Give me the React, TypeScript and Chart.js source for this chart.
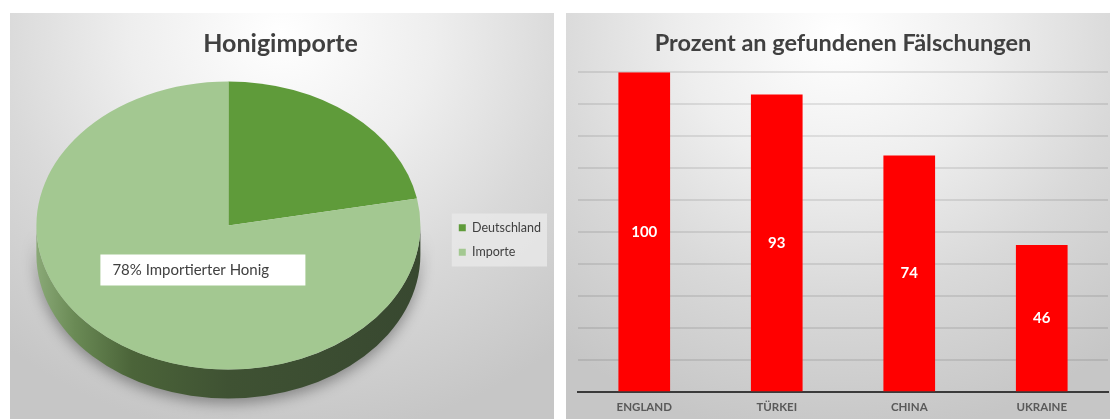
import React, { useEffect, useRef } from 'react';
import { Chart, registerables } from 'chart.js';

Chart.register(...registerables);

// ---------- data ----------
const pieTitle = 'Honigimporte';
const pieLabels = ['Deutschland', 'Importe'];
const pieValues = [22, 78];
const pieColors = ['#5f9b3a', '#a3c891'];
const pieCalloutText = 'Importierter Honig';

const barTitle = 'Prozent an gefundenen Fälschungen';
const barLabels = ['ENGLAND', 'TÜRKEI', 'CHINA', 'UKRAINE'];
const barValues = [100, 93, 74, 46];
const barAxisMin = 0;
const barAxisMax = 100;
const barAxisStep = 10;

// ---------- style ----------
const FONT = "Lato, 'Open Sans', sans-serif";
const TEXT_DARK = '#404040';
const PIE_RX = 192;
const PIE_RY = 144;
const PIE_DEPTH = 29;

Chart.defaults.font.family = FONT;

const panelBg =
  'radial-gradient(ellipse 80% 100% at 50% 5%, #ffffff 0%, #eeeeee 35%, #d9d9d9 65%, #c6c6c6 100%)';

function pieGeom(chart: any) {
  const arc: any = chart.getDatasetMeta(0).data[0];
  if (!arc) return null;
  return { ox: arc.x, oy: arc.y, r: arc.outerRadius, cx: arc.x, cy: arc.y - PIE_DEPTH / 2 };
}

const legendBackground = {
  id: 'legendBackground',
  beforeDraw(chart: any) {
    const lg = chart.legend;
    if (!lg || !lg.legendHitBoxes || !lg.legendHitBoxes.length) return;
    const hbs = lg.legendHitBoxes;
    const left = Math.min(...hbs.map((h: any) => h.left)) - 7;
    const right = Math.max(...hbs.map((h: any) => h.left + h.width)) + 6;
    const top = Math.min(...hbs.map((h: any) => h.top)) - 8;
    const bottom = Math.max(...hbs.map((h: any) => h.top + h.height)) + 8;
    const ctx = chart.ctx;
    ctx.save();
    ctx.fillStyle = 'rgba(232,232,232,0.85)';
    ctx.fillRect(left, top, right - left, bottom - top);
    ctx.restore();
  },
};

const pie3d = {
  id: 'pie3d',
  beforeDatasetsDraw(chart: any) {
    const g = pieGeom(chart);
    const ctx = chart.ctx;
    if (!g) {
      ctx.save();
      return;
    }
    const { cx, cy, ox, oy, r } = g;
    // side wall
    ctx.save();
    const grad = ctx.createLinearGradient(cx - PIE_RX, 0, cx + PIE_RX, 0);
    grad.addColorStop(0, '#8aa977');
    grad.addColorStop(0.1, '#6a8a55');
    grad.addColorStop(0.25, '#4b6439');
    grad.addColorStop(0.5, '#3f5233');
    grad.addColorStop(1, '#384830');
    ctx.beginPath();
    ctx.ellipse(cx, cy, PIE_RX, PIE_RY, 0, 0, Math.PI);
    ctx.lineTo(cx - PIE_RX, cy + PIE_DEPTH);
    ctx.ellipse(cx, cy + PIE_DEPTH, PIE_RX, PIE_RY, 0, Math.PI, 0, true);
    ctx.closePath();
    ctx.shadowColor = 'rgba(0,0,0,0.35)';
    ctx.shadowBlur = 14;
    ctx.shadowOffsetY = 5;
    ctx.fillStyle = grad;
    ctx.fill();
    ctx.restore();
    // elliptical face
    ctx.save();
    ctx.translate(cx, cy);
    ctx.scale(PIE_RX / r, PIE_RY / r);
    ctx.translate(-ox, -oy);
  },
  afterDatasetsDraw(chart: any) {
    const ctx = chart.ctx;
    ctx.restore();
    const g = pieGeom(chart);
    if (!g) return;
    const { cx, cy } = g;
    const text = `${pieValues[1]}% ${pieCalloutText}`;
    const bx = cx - 128;
    const by = cy + 29;
    ctx.save();
    ctx.fillStyle = '#ffffff';
    ctx.fillRect(bx, by, 205, 31);
    ctx.fillStyle = TEXT_DARK;
    ctx.font = `15px ${FONT}`;
    ctx.textAlign = 'left';
    ctx.textBaseline = 'middle';
    ctx.fillText(text, bx + 12, by + 16);
    ctx.restore();
  },
};

const barValueLabels = {
  id: 'barValueLabels',
  afterDatasetsDraw(chart: any) {
    const ctx = chart.ctx;
    const meta = chart.getDatasetMeta(0);
    ctx.save();
    ctx.fillStyle = '#ffffff';
    ctx.font = `bold 15px ${FONT}`;
    ctx.textAlign = 'center';
    ctx.textBaseline = 'middle';
    meta.data.forEach((bar: any, i: number) => {
      const p = bar.getProps(['x', 'y', 'base'], true);
      ctx.fillText(String(barValues[i]), p.x, (p.y + p.base) / 2);
    });
    ctx.restore();
  },
};

export default function App() {
  const pieRef = useRef<HTMLCanvasElement | null>(null);
  const barRef = useRef<HTMLCanvasElement | null>(null);

  useEffect(() => {
    const pie = new Chart(pieRef.current as HTMLCanvasElement, {
      type: 'pie',
      data: {
        labels: pieLabels,
        datasets: [
          {
            data: pieValues,
            backgroundColor: pieColors,
            borderWidth: 0,
            clip: false as any,
          } as any,
        ],
      },
      options: {
        animation: false,
        responsive: true,
        maintainAspectRatio: false,
        layout: { padding: { left: 0, right: 3, top: 0, bottom: 8 } },
        plugins: {
          title: {
            display: true,
            text: pieTitle,
            color: TEXT_DARK,
            font: { size: 25, weight: 'bold', family: FONT },
            padding: { top: 16, bottom: 10 },
          },
          legend: {
            position: 'right',
            fullSize: false,
            labels: {
              boxWidth: 7,
              boxHeight: 7,
              color: TEXT_DARK,
              padding: 12,
              font: { size: 12.5, family: FONT },
            },
          },
          tooltip: { enabled: false },
        },
      },
      plugins: [legendBackground, pie3d],
    });

    const bar = new Chart(barRef.current as HTMLCanvasElement, {
      type: 'bar',
      data: {
        labels: barLabels,
        datasets: [
          {
            data: barValues,
            backgroundColor: '#ff0000',
            borderWidth: 0,
            barPercentage: 0.39,
            categoryPercentage: 1,
          },
        ],
      },
      options: {
        animation: false,
        responsive: true,
        maintainAspectRatio: false,
        layout: { padding: { left: 12, right: 2, top: 0, bottom: -3 } },
        scales: {
          x: {
            grid: { display: false, drawTicks: false },
            border: { display: true, color: '#3a3a3a', width: 2 },
            ticks: {
              color: '#595959',
              padding: 8,
              font: { size: 11.5, weight: 'bold', family: FONT },
            },
          },
          y: {
            min: barAxisMin,
            max: barAxisMax,
            ticks: { display: false, stepSize: barAxisStep },
            grid: { color: 'rgba(0,0,0,0.09)', lineWidth: 2, drawTicks: false },
            border: { display: false },
          },
        },
        plugins: {
          title: {
            display: true,
            text: barTitle,
            color: TEXT_DARK,
            font: { size: 23.5, weight: 'bold', family: FONT },
            padding: { top: 16, bottom: 15 },
          },
          legend: { display: false },
          tooltip: { enabled: false },
        },
      },
      plugins: [barValueLabels],
    });

    return () => {
      pie.destroy();
      bar.destroy();
    };
  }, []);

  return (
    <div
      style={{
        position: 'fixed',
        left: 0,
        top: 0,
        width: 1110,
        height: 419,
        background: '#ffffff',
        overflow: 'hidden',
      }}
    >
      <div style={{ position: 'absolute', left: 10, top: 13, width: 544, height: 406, background: panelBg }}>
        <canvas ref={pieRef} />
      </div>
      <div style={{ position: 'absolute', left: 566, top: 13, width: 544, height: 406, background: panelBg }}>
        <canvas ref={barRef} />
      </div>
    </div>
  );
}
